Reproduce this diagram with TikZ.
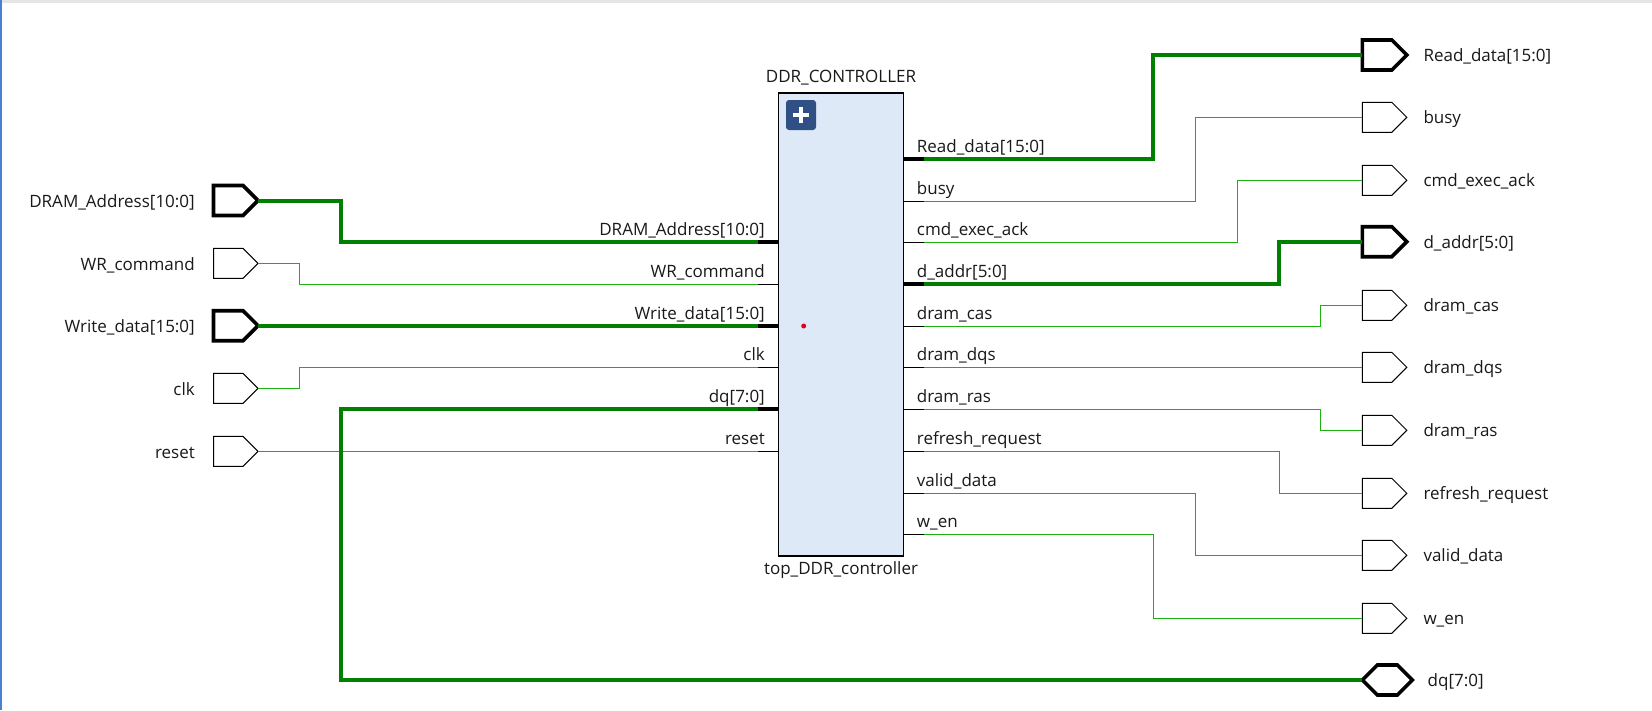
\documentclass[tikz,border=0pt]{standalone}
\usepackage{fontspec}
\usepackage{xcolor}
\setmainfont{Open Sans}
\usetikzlibrary{shapes.symbols}
\definecolor{busgreen}{HTML}{007F00}
\definecolor{netgreen}{HTML}{1CB010}
\definecolor{blockfill}{HTML}{DDE9F7}
\definecolor{btnblue}{HTML}{2F4F85}
\definecolor{edgeblue}{HTML}{4A7FD5}
\tikzset{
	port/.style={signal,signal to=east,signal pointer angle=90,draw=black,fill=white,line width=1pt,
		minimum width=44.5pt,minimum height=30pt,inner sep=0pt,outer sep=0pt,anchor=west},
	busport/.style={port,line width=3.6pt},
	ioport/.style={busport,signal to=east and west,minimum width=50pt},
	net/.style={netgreen,line width=1.2pt},
	bus/.style={busgreen,line width=4pt},
	stub/.style={black,line width=1.2pt},
	busstub/.style={black,line width=4pt},
	txt/.style={font=\fontsize{17}{20}\selectfont,text=black!90,inner sep=0pt},
	plabel/.style={txt,anchor=base east},
	qlabel/.style={txt,anchor=base west},
}
\begin{document}
\begin{tikzpicture}[x=1pt,y=-1pt]
	\useasboundingbox (0,0) rectangle (1652,710);
	\fill[white] (0,0) rectangle (1652,710);
	\fill[black!10] (0,0) rectangle (1652,3);
	\fill[edgeblue] (0,0) rectangle (2,710);
	% block
	\node[draw=black,fill=blockfill,line width=1.2pt,minimum width=124.5pt,minimum height=463pt,inner sep=0pt,anchor=north west] (ctrl) at (778.2,92.3) {};
	\node[txt,anchor=base] (ctrltop) at (841,82.5) {DDR\_CONTROLLER};
	\node[txt,anchor=base] (ctrlbot) at (841,574.5) {top\_DDR\_controller};
	\node[fill=btnblue,rounded corners=3pt,minimum size=30pt,inner sep=0pt] (btn) at (801,115) {};
	\draw[white,line width=3.3pt] ([xshift=-8.3pt]btn.center) -- ([xshift=8.3pt]btn.center);
	\draw[white,line width=3.3pt] ([yshift=-8.3pt]btn.center) -- ([yshift=8.3pt]btn.center);
	\node[circle,fill=red!90!blue,minimum size=5pt,inner sep=0pt] (dot) at (803.7,326) {};
	% input pins
	\coordinate (in_addr) at (757.5,241.7);
	\coordinate (in_wr) at (757.5,284.3);
	\coordinate (in_wdata) at (757.5,325.7);
	\coordinate (in_clk) at (757.5,367.3);
	\coordinate (in_dq) at (757.5,409);
	\coordinate (in_rst) at (757.5,451.3);
	\draw[busstub] (in_addr) -- (in_addr -| ctrl.west);
	\draw[stub] (in_wr) -- (in_wr -| ctrl.west);
	\draw[busstub] (in_wdata) -- (in_wdata -| ctrl.west);
	\draw[stub] (in_clk) -- (in_clk -| ctrl.west);
	\draw[busstub] (in_dq) -- (in_dq -| ctrl.west);
	\draw[stub] (in_rst) -- (in_rst -| ctrl.west);
	\node[plabel] (lin_addr) at (765,235) {DRAM\_Address[10:0]};
	\node[plabel] (lin_wr) at (765,277.6) {WR\_command};
	\node[plabel] (lin_wdata) at (765,319) {Write\_data[15:0]};
	\node[plabel] (lin_clk) at (765,360.6) {clk};
	\node[plabel] (lin_dq) at (765,402.4) {dq[7:0]};
	\node[plabel] (lin_rst) at (765,444.6) {reset};
	% output pins
	\coordinate (out_rd) at (923.7,158.7);
	\coordinate (out_busy) at (923.7,201.3);
	\coordinate (out_ack) at (923.7,242.3);
	\coordinate (out_daddr) at (923.7,283.7);
	\coordinate (out_cas) at (923.7,326.3);
	\coordinate (out_dqs) at (923.7,367.3);
	\coordinate (out_ras) at (923.7,409.3);
	\coordinate (out_ref) at (923.7,451.3);
	\coordinate (out_valid) at (923.7,493.3);
	\coordinate (out_wen) at (923.7,534.3);
	\draw[busstub] (out_rd) -- (out_rd -| ctrl.east);
	\draw[stub] (out_busy) -- (out_busy -| ctrl.east);
	\draw[stub] (out_ack) -- (out_ack -| ctrl.east);
	\draw[busstub] (out_daddr) -- (out_daddr -| ctrl.east);
	\draw[stub] (out_cas) -- (out_cas -| ctrl.east);
	\draw[stub] (out_dqs) -- (out_dqs -| ctrl.east);
	\draw[stub] (out_ras) -- (out_ras -| ctrl.east);
	\draw[stub] (out_ref) -- (out_ref -| ctrl.east);
	\draw[stub] (out_valid) -- (out_valid -| ctrl.east);
	\draw[stub] (out_wen) -- (out_wen -| ctrl.east);
	\node[qlabel] (lout_rd) at (916.7,152) {Read\_data[15:0]};
	\node[qlabel] (lout_busy) at (916.7,194.6) {busy};
	\node[qlabel] (lout_ack) at (916.7,235.6) {cmd\_exec\_ack};
	\node[qlabel] (lout_daddr) at (916.7,277) {d\_addr[5:0]};
	\node[qlabel] (lout_cas) at (916.7,319.6) {dram\_cas};
	\node[qlabel] (lout_dqs) at (916.7,360.6) {dram\_dqs};
	\node[qlabel] (lout_ras) at (916.7,402.6) {dram\_ras};
	\node[qlabel] (lout_ref) at (916.7,444.6) {refresh\_request};
	\node[qlabel] (lout_valid) at (916.7,486.6) {valid\_data};
	\node[qlabel] (lout_wen) at (916.7,527.6) {w\_en};
	% left ports
	\node[busport] (addr) at (213.5,200.5) {};
	\node[port] (wr) at (213.5,263.3) {};
	\node[busport] (wdata) at (213.5,325.7) {};
	\node[port] (clk) at (213.5,388.3) {};
	\node[port] (rst) at (213.5,451.3) {};
	\node[plabel] (laddr) at (195,207.2) {DRAM\_Address[10:0]};
	\node[plabel] (lwr) at (195,270) {WR\_command};
	\node[plabel] (lwdata) at (195,332.4) {Write\_data[15:0]};
	\node[plabel] (lclk) at (195,395) {clk};
	\node[plabel] (lrst) at (195,458) {reset};
	% right ports
	\node[busport] (rd) at (1362.3,55) {};
	\node[port] (busy) at (1362.3,117.3) {};
	\node[port] (ack) at (1362.3,180.3) {};
	\node[busport] (daddr) at (1362.3,241.7) {};
	\node[port] (cas) at (1362.3,305.3) {};
	\node[port] (dqs) at (1362.3,367.3) {};
	\node[port] (ras) at (1362.3,430.3) {};
	\node[port] (ref) at (1362.3,493.3) {};
	\node[port] (valid) at (1362.3,555.3) {};
	\node[port] (wen) at (1362.3,618.3) {};
	\node[ioport] (dq) at (1362.3,680) {};
	\node[qlabel] (lrd) at (1423.3,61.6) {Read\_data[15:0]};
	\node[qlabel] (lbusy) at (1423.3,123.9) {busy};
	\node[qlabel] (lack) at (1423.3,186.9) {cmd\_exec\_ack};
	\node[qlabel] (ldaddr) at (1423.3,248.3) {d\_addr[5:0]};
	\node[qlabel] (lcas) at (1423.3,311.9) {dram\_cas};
	\node[qlabel] (ldqs) at (1423.3,373.9) {dram\_dqs};
	\node[qlabel] (lras) at (1423.3,436.9) {dram\_ras};
	\node[qlabel] (lref) at (1423.3,499.9) {refresh\_request};
	\node[qlabel] (lvalid) at (1423.3,561.9) {valid\_data};
	\node[qlabel] (lwen) at (1423.3,624.9) {w\_en};
	\node[qlabel] (ldq) at (1427.5,686.6) {dq[7:0]};
	% nets, inputs
	\draw[bus] (addr.east) -| (340.5,0 |- in_addr) -- (in_addr);
	\draw[net] (wr.east) -| (299.5,0 |- in_wr) -- (in_wr);
	\draw[bus] (wdata.east) -- (in_wdata);
	\draw[net] (clk.east) -| (299.5,0 |- in_clk) -- (in_clk);
	\draw[net] (rst.east) -- (in_rst);
	\draw[bus] (in_dq) -| (340.5,0 |- dq.west) -- (dq.west);
	% nets, outputs
	\draw[bus] (out_rd) -| (1152.7,0 |- rd.west) -- (rd.west);
	\draw[net] (out_busy) -| (1195.7,0 |- busy.west) -- (busy.west);
	\draw[net] (out_ack) -| (1237.3,0 |- ack.west) -- (ack.west);
	\draw[bus] (out_daddr) -| (1279,0 |- daddr.west) -- (daddr.west);
	\draw[net] (out_cas) -| (1320.3,0 |- cas.west) -- (cas.west);
	\draw[net] (out_dqs) -- (dqs.west);
	\draw[net] (out_ras) -| (1320.3,0 |- ras.west) -- (ras.west);
	\draw[net] (out_ref) -| (1279.7,0 |- ref.west) -- (ref.west);
	\draw[net] (out_valid) -| (1195.7,0 |- valid.west) -- (valid.west);
	\draw[net] (out_wen) -| (1153.3,0 |- wen.west) -- (wen.west);
\end{tikzpicture}
\end{document}
